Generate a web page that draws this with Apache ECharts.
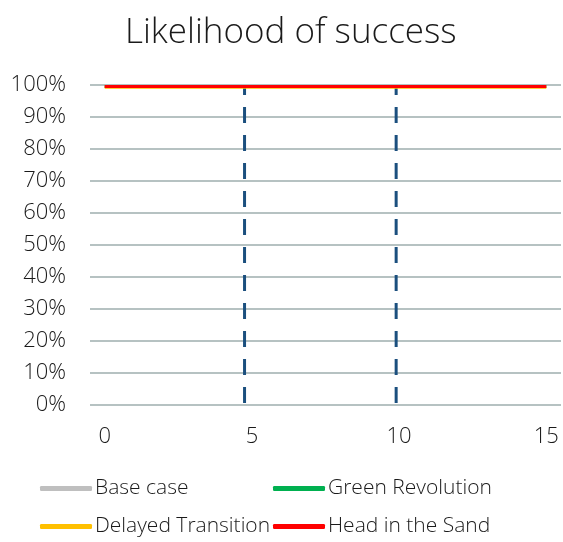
<!DOCTYPE html>
<html>
<head>
<meta charset="utf-8">
<script src="https://cdn.jsdelivr.net/npm/echarts@6/dist/echarts.min.js"></script>
<style>
  html, body { margin: 0; padding: 0; background: #fff; }
  #chart { width: 563px; height: 542px; }
</style>
</head>
<body>
<div id="chart"></div>
<script>
// Years from start of the plan
const years = ['0','1','2','3','4','5','6','7','8','9','10','11','12','13','14','15'];

// Likelihood of success per scenario (fraction of 1)
const baseCase          = [0.995,0.995,0.995,0.995,0.995,0.995,0.995,0.995,0.995,0.995,0.995,0.995,0.995,0.995,0.995,0.995];
const greenRevolution   = [0.995,0.995,0.995,0.995,0.995,0.995,0.995,0.995,0.995,0.995,0.995,0.995,0.995,0.995,0.995,0.995];
const delayedTransition = [0.993,0.993,0.993,0.993,0.993,0.993,0.993,0.993,0.993,0.993,0.993,0.993,0.993,0.993,0.993,0.993];
const headInTheSand     = [0.995,0.995,0.995,0.995,0.995,0.995,0.995,0.995,0.995,0.995,0.995,0.995,0.995,0.995,0.995,0.995];

// Milestone markers (in years)
const milestones = [4.75, 9.9];

const font = '"Open Sans", "Noto Sans", sans-serif';
const weight = 300;
const textColor = '#1a1a1a';

const chart = echarts.init(document.getElementById('chart'), null, { renderer: 'canvas' });

function scenario(name, data, color) {
  return {
    name: name,
    type: 'line',
    data: data,
    symbol: 'none',
    xAxisIndex: 0,
    yAxisIndex: 0,
    lineStyle: { color: color, width: 3 },
    itemStyle: { color: color },
    animation: false
  };
}

const milestoneSeries = milestones.map(function (yr) {
  return {
    type: 'line',
    xAxisIndex: 1,
    yAxisIndex: 0,
    data: [[yr, 1], [yr, 0]],
    symbol: 'none',
    silent: true,
    lineStyle: { color: '#1b4f7e', width: 3, type: [16, 12], dashOffset: 6, cap: 'butt' },
    z: 1,
    animation: false
  };
});

const legendText = { fontFamily: font, fontWeight: weight, fontSize: 21, color: textColor, padding: [0, 0, 0, -2] };

chart.setOption({
  backgroundColor: '#ffffff',
  title: {
    text: 'Likelihood of success',
    left: 120,
    top: 11,
    textStyle: { fontFamily: font, fontSize: 35, fontWeight: weight, color: textColor }
  },
  grid: { left: 90, right: 2, top: 85, bottom: 137, containLabel: false },
  xAxis: [
    {
      type: 'category',
      data: years,
      boundaryGap: true,
      axisLine: { show: false },
      axisTick: { show: false },
      axisLabel: {
        interval: 4,
        margin: 21,
        fontFamily: font,
        fontWeight: weight,
        fontSize: 22,
        color: textColor
      },
      splitLine: { show: false }
    },
    {
      type: 'value',
      min: -0.5,
      max: 15.5,
      show: false
    }
  ],
  yAxis: {
    type: 'value',
    min: 0,
    max: 1,
    interval: 0.1,
    axisLine: { show: false },
    axisTick: { show: false },
    axisLabel: {
      margin: 24,
      fontFamily: font,
      fontWeight: weight,
      fontSize: 22,
      color: textColor,
      formatter: function (v) { return Math.round(v * 100) + '%'; }
    },
    splitLine: { lineStyle: { color: '#b6c2c2', width: 2 } }
  },
  legend: [
    {
      orient: 'vertical',
      left: 35,
      top: 473,
      itemGap: 17,
      itemWidth: 52,
      itemHeight: 5,
      icon: 'roundRect',
      data: ['Base case', 'Delayed Transition'],
      textStyle: legendText
    },
    {
      orient: 'vertical',
      left: 268,
      top: 473,
      itemGap: 17,
      itemWidth: 52,
      itemHeight: 5,
      icon: 'roundRect',
      data: ['Green Revolution', 'Head in the Sand'],
      textStyle: legendText
    }
  ],
  series: milestoneSeries.concat([
    scenario('Base case', baseCase, '#bfbfbf'),
    scenario('Green Revolution', greenRevolution, '#00b050'),
    scenario('Delayed Transition', delayedTransition, '#ffc000'),
    scenario('Head in the Sand', headInTheSand, '#ff0000')
  ])
});
</script>
</body>
</html>
